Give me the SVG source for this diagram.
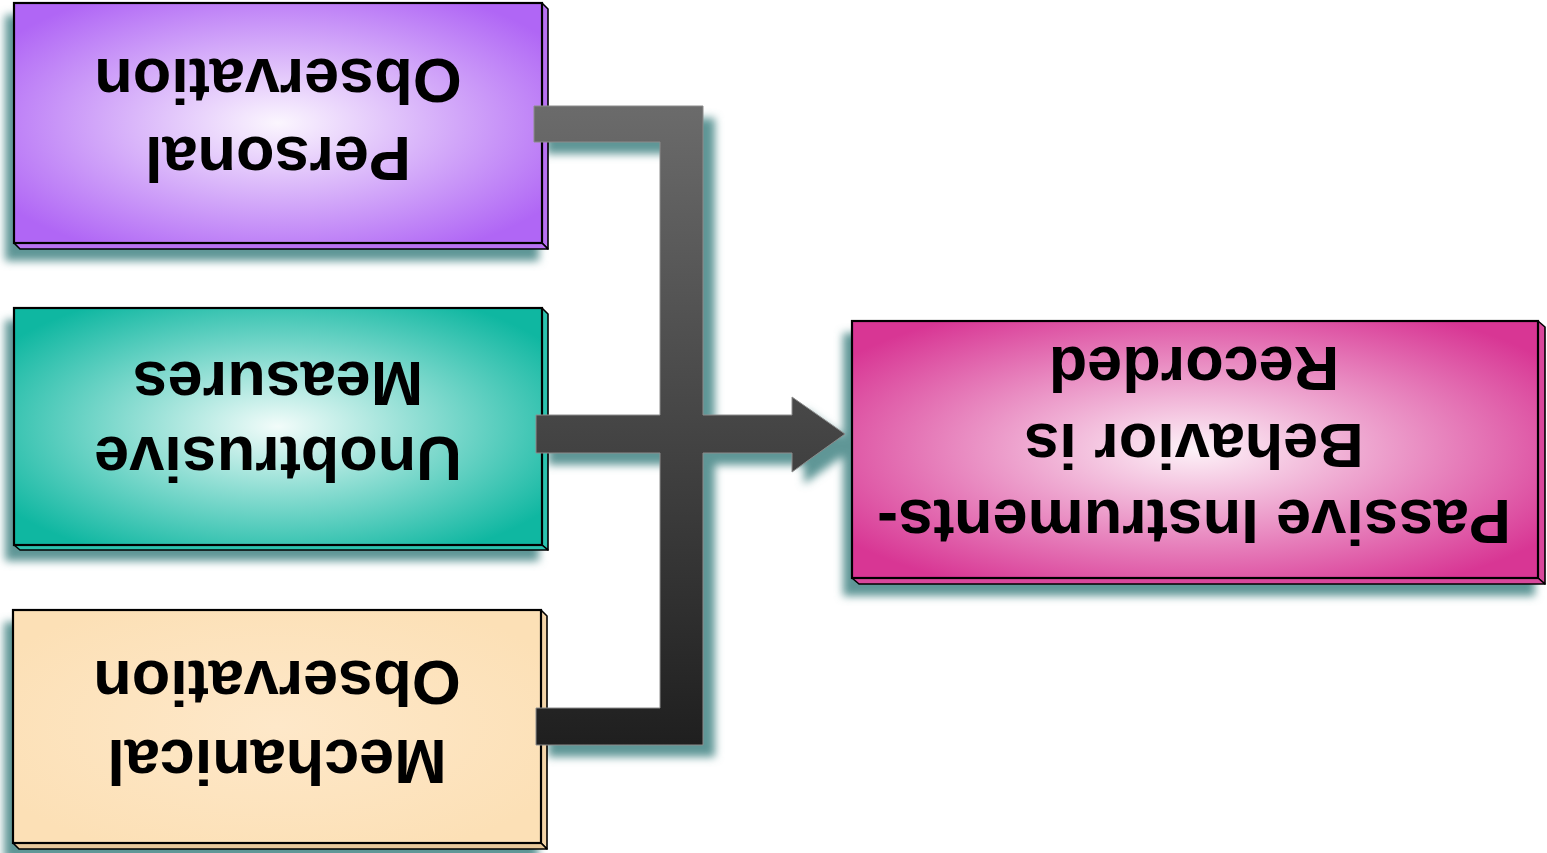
<svg xmlns="http://www.w3.org/2000/svg" width="1547" height="853" viewBox="0 0 1547 853">
<style>
.face{stroke:#000;stroke-width:2.2;stroke-linejoin:miter}
.edge{stroke:#000;stroke-width:1.6;stroke-linejoin:round}
.lbl{font-family:"Liberation Sans",Arial,sans-serif;font-weight:bold;font-size:63px;fill:#000;text-anchor:middle}
.shd{fill:#5f9696}
</style>
<defs>
<filter id="blur" x="-20%" y="-20%" width="140%" height="140%"><feGaussianBlur stdDeviation="4"/></filter>
<radialGradient id="gPurple" cx="0.5" cy="0.5" r="0.62"><stop offset="0" stop-color="#fbf6fe"/><stop offset="1" stop-color="#b066f5"/></radialGradient>
<radialGradient id="gTeal" cx="0.5" cy="0.5" r="0.62"><stop offset="0" stop-color="#f2fcfa"/><stop offset="1" stop-color="#0fb7a1"/></radialGradient>
<radialGradient id="gBeige" cx="0.5" cy="0.5" r="0.6"><stop offset="0" stop-color="#fee8c9"/><stop offset="1" stop-color="#fce0b6"/></radialGradient>
<radialGradient id="gMag" cx="0.5" cy="0.5" r="0.62"><stop offset="0" stop-color="#fdf2f8"/><stop offset="1" stop-color="#d83694"/></radialGradient>
<linearGradient id="gConn" gradientUnits="userSpaceOnUse" x1="0" y1="106" x2="0" y2="745"><stop offset="0" stop-color="#6b6b6b"/><stop offset="1" stop-color="#1f1f1f"/></linearGradient>
</defs>

<g id="shadows" filter="url(#blur)">
<rect class="shd" x="5" y="15" width="534" height="246"/>
<rect class="shd" x="5" y="320" width="534" height="241"/>
<rect class="shd" x="4" y="622" width="534" height="239"/>
<rect class="shd" x="843" y="333" width="692" height="263"/>
<path class="shd" d="M546,118 H715 V427 H804 V409 L857,446 L804,484 V465 H715 V757 H548 V720 H672 V465 H548 V427 H672 V154 H546 Z"/>
</g>

<g id="node-personal">
<path class="edge" d="M542,3 L548,9 V249 L542,243 Z" fill="#b872f2"/>
<path class="edge" d="M14,243 H542 L548,249 H20 Z" fill="#b872f2"/>
<rect class="face" x="14" y="3" width="528" height="240" fill="url(#gPurple)"/>
<g transform="rotate(180 278 123)"><text class="lbl" x="278" y="109">Personal</text><text class="lbl" x="278" y="187">Observation</text></g>
</g>

<g id="node-unobtrusive">
<path class="edge" d="M542,308 L548,314 V550 L542,545 Z" fill="#2cc2ae"/>
<path class="edge" d="M14,545 H542 L548,550 H20 Z" fill="#2cc2ae"/>
<rect class="face" x="14" y="308" width="528" height="237" fill="url(#gTeal)"/>
<g transform="rotate(180 278 426.5)"><text class="lbl" x="278" y="416">Unobtrusive</text><text class="lbl" x="278" y="491">Measures</text></g>
</g>

<g id="node-mechanical">
<path class="edge" d="M541,610 L547,616 V849 L541,843 Z" fill="#f3d4a8"/>
<path class="edge" d="M13,843 H541 L547,849 H19 Z" fill="#e8c99c"/>
<rect class="face" x="13" y="610" width="528" height="233" fill="url(#gBeige)"/>
<g transform="rotate(180 277 726.5)"><text class="lbl" x="277" y="713">Mechanical</text><text class="lbl" x="277" y="792">Observation</text></g>
</g>

<g id="node-passive">
<path class="edge" d="M1538,321 L1545,327 V584 L1538,578 Z" fill="#d8489c"/>
<path class="edge" d="M852,578 H1538 L1545,584 H859 Z" fill="#d8489c"/>
<rect class="face" x="852" y="321" width="686" height="257" fill="url(#gMag)"/>
<g transform="rotate(180 1194 449.5)"><text class="lbl" x="1194" y="399">Passive Instruments-</text><text class="lbl" x="1194" y="475">Behavior is</text><text class="lbl" x="1194" y="552">Recorded</text></g>
</g>

<g id="connectors">
<path d="M534,106 H703 V415 H792 V397 L845,434 L792,472 V453 H703 V745 H536 V708 H660 V453 H536 V415 H660 V142 H534 Z" fill="url(#gConn)" stroke="#8c8c8c" stroke-width="1"/>
</g>
</svg>
